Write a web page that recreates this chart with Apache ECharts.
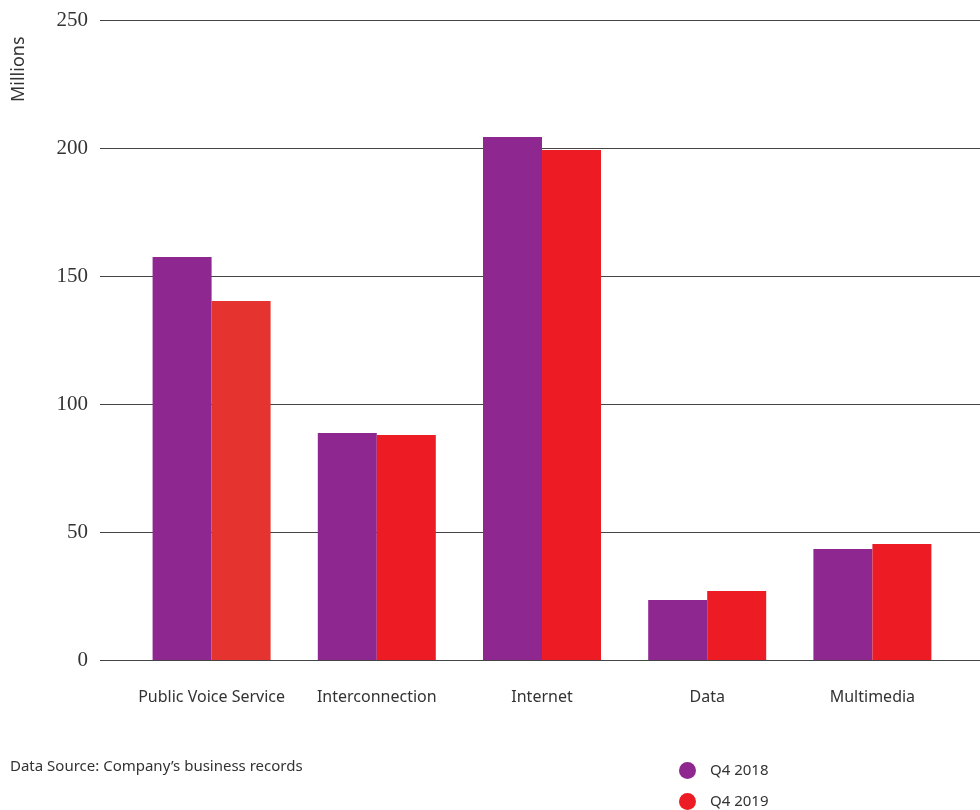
<!DOCTYPE html>
<html>
<head>
<meta charset="utf-8">
<script src="https://cdn.jsdelivr.net/npm/echarts@6/dist/echarts.min.js"></script>
<style>
  html, body { margin: 0; padding: 0; background: #fff; }
  #main { width: 980px; height: 810px; }
</style>
</head>
<body>
<div id="main"></div>
<script>
var categories = ['Public Voice Service', 'Interconnection', 'Internet', 'Data', 'Multimedia'];
var q42018 = [157.4, 88.7, 204.3, 23.4, 43.4];
var q42019 = [140.2, 87.9, 199.2, 27.0, 45.3];
var yTicks = [0, 50, 100, 150, 200, 250];

var colors = ['#8e278f', '#ed1c24'];

var main = echarts.init(document.getElementById('main'));
var legendText = { fontFamily: 'Noto Sans', fontSize: 15, color: '#333', padding: [0, 0, 0, 9] };
var option = {
    color: colors,
    animation: false,
    legend: [
        {
            left: 674,
            top: 757,
            itemWidth: 17,
            itemHeight: 17,
            icon: 'circle',
            textStyle: legendText,
            data: ['Q4 2018']
        },
        {
            left: 674,
            top: 788,
            itemWidth: 17,
            itemHeight: 17,
            icon: 'circle',
            textStyle: legendText,
            data: ['Q4 2019']
        }
    ],
    graphic: [
        {
            type: 'text',
            left: 10,
            top: 759,
            style: { text: 'Data Source: Company\u2019s business records', font: '15px "Noto Sans"', fill: '#333' }
        },
        {
            type: 'text',
            rotation: Math.PI / 2,
            x: 10,
            y: 102,
            style: { text: 'Millions', font: '18px "Noto Sans"', fill: '#333' }
        }
    ],
    grid: [
        // lines and y labels
        { left: 100, right: 0, top: 20, bottom: 150 },
        // bars
        { left: 129, right: 25, top: 20, bottom: 150 }
    ],
    xAxis: [
        { type: 'category', gridIndex: 0, data: categories, show: false },
        {
            type: 'category',
            gridIndex: 1,
            data: categories,
            axisLine: { show: false },
            axisTick: { show: false },
            axisLabel: { interval: 0, margin: 29, fontFamily: 'Noto Sans', fontSize: 16, color: '#333' }
        }
    ],
    yAxis: [
        {
            type: 'value',
            gridIndex: 0,
            min: 0,
            max: 250,
            interval: 50,
            axisLine: { show: false },
            axisTick: { show: false },
            axisLabel: {
                margin: 12,
                fontFamily: 'Liberation Serif',
                fontSize: 21,
                color: '#333',
                formatter: function (v) { return yTicks.indexOf(v) >= 0 ? String(v) : ''; }
            },
            splitLine: { lineStyle: { color: '#444', width: 1 } }
        },
        {
            type: 'value',
            gridIndex: 1,
            min: 0,
            max: 250,
            interval: 50,
            show: false,
            splitLine: { show: false }
        }
    ],
    series: [
        {
            name: 'Q4 2018',
            type: 'bar',
            xAxisIndex: 1,
            yAxisIndex: 1,
            barWidth: 59,
            barGap: '0%',
            data: q42018
        },
        {
            name: 'Q4 2019',
            type: 'bar',
            xAxisIndex: 1,
            yAxisIndex: 1,
            barWidth: 59,
            barGap: '0%',
            data: q42019.map(function (v, i) {
                return i === 0 ? { value: v, itemStyle: { color: '#e53330' } } : v;
            })
        }
    ]
};
main.setOption(option);
</script>
</body>
</html>
